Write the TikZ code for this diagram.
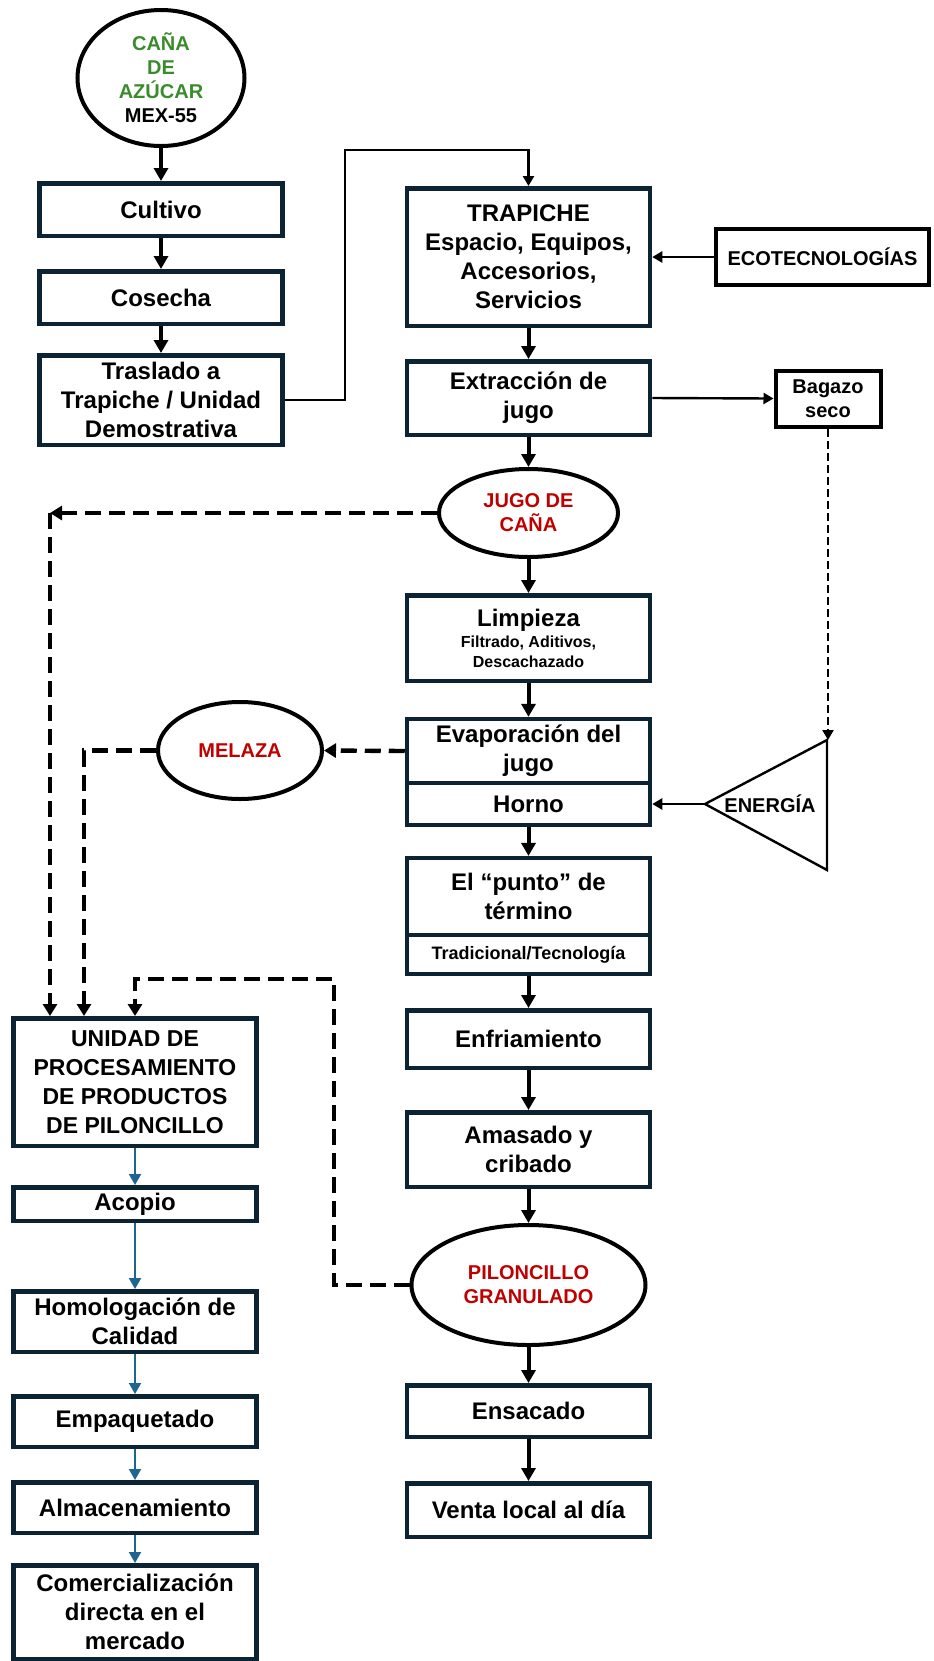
\documentclass[tikz,border=0pt]{standalone}
\usepackage{fontspec}
\setmainfont{Liberation Sans}
\usetikzlibrary{arrows.meta,shapes.geometric,calc}
\definecolor{bordc}{HTML}{0C2333}
\definecolor{greenc}{HTML}{3A8B2C}
\definecolor{redc}{HTML}{C00000}
\definecolor{bluec}{HTML}{1F6591}
\begin{document}
\begin{tikzpicture}[x=0.5pt,y=-0.5pt,
  box/.style={draw=bordc, line width=2.25pt, rectangle, minimum width=121.5pt, inner sep=1pt, align=center, font=\bfseries\fontsize{12}{14.5}\selectfont, text=black},
  oval/.style={draw=black, line width=2pt, ellipse, inner sep=0pt, align=center, font=\bfseries\fontsize{10}{12}\selectfont},
  blkbox/.style={draw=black, line width=2pt, rectangle, align=center, inner sep=0pt, font=\bfseries\fontsize{10}{12}\selectfont},
  bigarrow/.style={draw=black, line width=2pt, -{Triangle[length=6.5pt,width=7pt]}},
  thinarrow/.style={draw=black, line width=1.2pt, -{Triangle[length=5pt,width=5.5pt]}},
  dasharrow/.style={draw=black, line width=2.2pt, dash pattern=on 8pt off 4pt, -{Triangle[length=6pt,width=7pt]}},
  smalldash/.style={draw=black, line width=1.2pt, dash pattern=on 4pt off 2pt, -{Triangle[length=5pt,width=5.5pt]}},
  bluearrow/.style={draw=bluec, line width=1pt, -{Triangle[length=5.5pt,width=6pt]}},
]
\fill[white] (0,0) rectangle (933,1661);
\useasboundingbox (0,0) rectangle (933,1661);

% left column top
\node[oval, minimum width=83.5pt, minimum height=68pt] (cana) at (161,78)
  {\textcolor{greenc}{CAÑA}\\\textcolor{greenc}{DE}\\\textcolor{greenc}{AZÚCAR}\\MEX-55};
\node[box, minimum height=26.25pt] (cultivo) at (161,209.5) {Cultivo};
\node[box, minimum height=26.25pt] (cosecha) at (161,297.5) {Cosecha};
\node[box, minimum height=44.75pt] (traslado) at (161,400) {Traslado a\\Trapiche / Unidad\\Demostrativa};

% main column
\node[box, minimum height=68.75pt] (trapiche) at (528.5,257) {TRAPICHE\\Espacio, Equipos,\\Accesorios,\\Servicios};
\node[blkbox, minimum width=106.5pt, minimum height=28pt] (ecotec) at (822.5,257) {ECOTECNOLOGÍAS};
\node[box, minimum height=36.75pt] (extraccion) at (528.5,398) {Extracción de\\jugo};
\node[blkbox, minimum width=52.5pt, minimum height=28pt] (bagazo) at (828,398.5) {Bagazo\\seco};
\node[oval, minimum width=89.5pt, minimum height=44pt] (jugo) at (528.5,513) {\textcolor{redc}{JUGO DE}\\\textcolor{redc}{CAÑA}};
\node[box, minimum height=42.75pt] (limpieza) at (528.5,638) {Limpieza\\[-4pt]\fontsize{8}{9.5}\selectfont Filtrado, Aditivos,\\[-4.5pt]\fontsize{8}{9.5}\selectfont Descachazado};
\node[box, minimum height=31.9pt] (evap) at (528.5,751) {Evaporación del\\jugo};
\node[box, minimum height=20.9pt] (horno) at (528.5,804) {Horno};
\node[oval, minimum width=82pt, minimum height=48.5pt] (melaza) at (240,750.5) {\textcolor{redc}{MELAZA}};

% energy triangle
\coordinate (apex) at (705,804);
\coordinate (tritop) at (827,740);
\coordinate (tribot) at (827,870);
\draw[black, line width=1.2pt, line join=miter] (apex) -- (tritop) -- (tribot) -- cycle;
\node[font=\bfseries\fontsize{10}{12}\selectfont, inner sep=0pt] (energia) at (770,804) {ENERGÍA};

\node[box, minimum height=38.4pt] (punto) at (528.5,896.6) {El “punto” de\\término};
\node[box, minimum height=19.4pt, font=\bfseries\fontsize{9}{11}\selectfont] (trad) at (528.5,954.4) {Tradicional/Tecnología};
\node[box, minimum height=28.75pt] (enfria) at (528.5,1039) {Enfriamiento};
\node[box, minimum height=37.25pt] (amasado) at (528.5,1149.5) {Amasado y\\cribado};
\node[oval, minimum width=117pt, minimum height=60pt] (pilon) at (528.5,1285) {\textcolor{redc}{PILONCILLO}\\\textcolor{redc}{GRANULADO}};
\node[box, minimum height=25.75pt] (ensacado) at (528.5,1411) {Ensacado};
\node[box, minimum height=26.75pt] (venta) at (528.5,1510) {Venta local al día};

% left column bottom
\node[box, minimum height=63.75pt, font=\bfseries\fontsize{11.5}{14.5}\selectfont] (unidad) at (135,1082) {UNIDAD DE\\PROCESAMIENTO\\DE PRODUCTOS\\DE PILONCILLO};
\node[box, minimum height=16.75pt] (acopio) at (135,1204) {Acopio};
\node[box, minimum height=30.25pt] (homolog) at (135,1321.5) {Homologación de\\Calidad};
\node[box, minimum height=25.25pt] (empaq) at (135,1421.5) {Empaquetado};
\node[box, minimum height=25.25pt] (almac) at (135,1507.5) {Almacenamiento};
\node[box, minimum height=46.75pt] (comerc) at (135,1612) {Comercialización\\directa en el\\mercado};

% solid black arrows
\draw[bigarrow] (cana.south) -- (cultivo.north);
\draw[bigarrow] (cultivo.south) -- (cosecha.north);
\draw[bigarrow] (cosecha.south) -- (traslado.north);
\draw[bigarrow] (trapiche.south) -- (extraccion.north);
\draw[bigarrow] (extraccion.south) -- (jugo.north);
\draw[bigarrow] (jugo.south) -- (limpieza.north);
\draw[bigarrow] (limpieza.south) -- (evap.north);
\draw[bigarrow] (horno.south) -- (punto.north);
\draw[bigarrow] (trad.south) -- (enfria.north);
\draw[bigarrow] (enfria.south) -- (amasado.north);
\draw[bigarrow] (amasado.south) -- (pilon.north);
\draw[bigarrow] (pilon.south) -- (ensacado.north);
\draw[bigarrow] (ensacado.south) -- (venta.north);

% thin arrows
\coordinate (k1) at (345,150);
\draw[thinarrow] (traslado.east) -| (k1) -| (trapiche.north);
\draw[thinarrow] (ecotec.west) -- (trapiche.east);
\draw[thinarrow] (extraccion.east) -- (bagazo.west);
\draw[smalldash] (bagazo.south) -- (bagazo.south |- tritop);
\draw[thinarrow] (apex) -- (horno.east);

% dashed connectors
\coordinate (c1) at (50,513);
\draw[dasharrow] (jugo.west) -- (c1);
\draw[dasharrow] (c1) -- (c1 |- unidad.north);
\draw[dasharrow] (evap.west) -- (melaza.east);
\coordinate (m1) at (84,750.5);
\draw[dasharrow] (melaza.west) -- (m1) -- (m1 |- unidad.north);
\coordinate (p1) at (334,979);
\draw[dasharrow] (pilon.west) -| (p1) -| (unidad.north);

% blue arrows
\draw[bluearrow] (unidad.south) -- (acopio.north);
\draw[bluearrow] (acopio.south) -- (homolog.north);
\draw[bluearrow] (homolog.south) -- (empaq.north);
\draw[bluearrow] (empaq.south) -- (almac.north);
\draw[bluearrow] (almac.south) -- (comerc.north);
\end{tikzpicture}
\end{document}
